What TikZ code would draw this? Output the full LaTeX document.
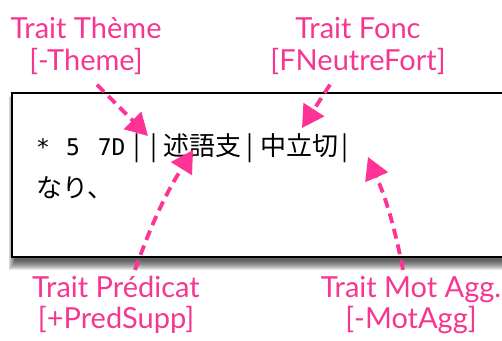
\documentclass[tikz,border=0pt]{standalone}
\usepackage{fontspec}
\setmainfont{Lato}
\newfontfamily\cjk{Noto Sans CJK JP}
\newfontfamily\monofont{DejaVu Sans Mono}
\usetikzlibrary{arrows.meta,positioning}
\definecolor{pinkline}{RGB}{255,51,150}
\definecolor{pinktext}{RGB}{245,55,145}
\tikzset{
  tag/.style={text=pinktext, font=\fontsize{29}{31.5}\selectfont, align=center, inner sep=0pt},
  pointer/.style={-{Triangle[length=22pt, width=24pt]}, pinkline, line width=3.8pt,
                  dash pattern=on 10pt off 6pt},
  sample/.style={anchor=base west, inner sep=0pt, font=\fontsize{26}{30}\selectfont},
}
\begin{document}
\begin{tikzpicture}[x=1pt, y=-1pt]
  \useasboundingbox (0,0) rectangle (502,340);

  % soft shadow under the sample box
  \foreach \s in {0,...,9}
    \fill[black, opacity=0.09] (15-\s*0.7,99-\s*0.3) rectangle (530,261+\s*1.0);
  \draw[black, line width=2pt, fill=white] (12,93) rectangle (530,257);

  \node[sample] (line1) at (36,155)
    {{\monofont\fontsize{23}{26}\selectfont *\hspace{16pt}5\hspace{18pt}7D}\hspace{8pt}\cjk
     |\hspace{10pt}|\hspace{5.5pt}述語支\hspace{5pt}|\hspace{7pt}中立切\hspace{3.5pt}|};
  \node[sample] (line2) at (36,197) {\cjk なり、};

  \node[tag] (theme) at (86,46) {Trait Thème\\{}[-Theme]};
  \node[tag] (fonc)  at (358,46) {Trait Fonc\\{}[FNeutreFort]};
  \node[tag] (pred)  at (116,305) {Trait Prédicat\\{}[+PredSupp]};
  \node[tag] (motagg) at (411,305) {Trait Mot Agg.\\{}[-MotAgg]};

  \coordinate (themetip)  at (148,136);
  \coordinate (fonctip)   at (302,128);
  \coordinate (predtip)   at (193,150);
  \coordinate (motaggtip) at (368,157);

  \draw[pointer] (theme.south) ++(11,10) -- (themetip);
  \draw[pointer] (fonc.south) ++(-28,10) -- (fonctip);
  \draw[pointer] (pred.north) ++(19,-6) to[bend left=6] (predtip);
  \draw[pointer] (motagg.north) ++(-8,-6) to[bend right=6] (motaggtip);
\end{tikzpicture}
\end{document}
